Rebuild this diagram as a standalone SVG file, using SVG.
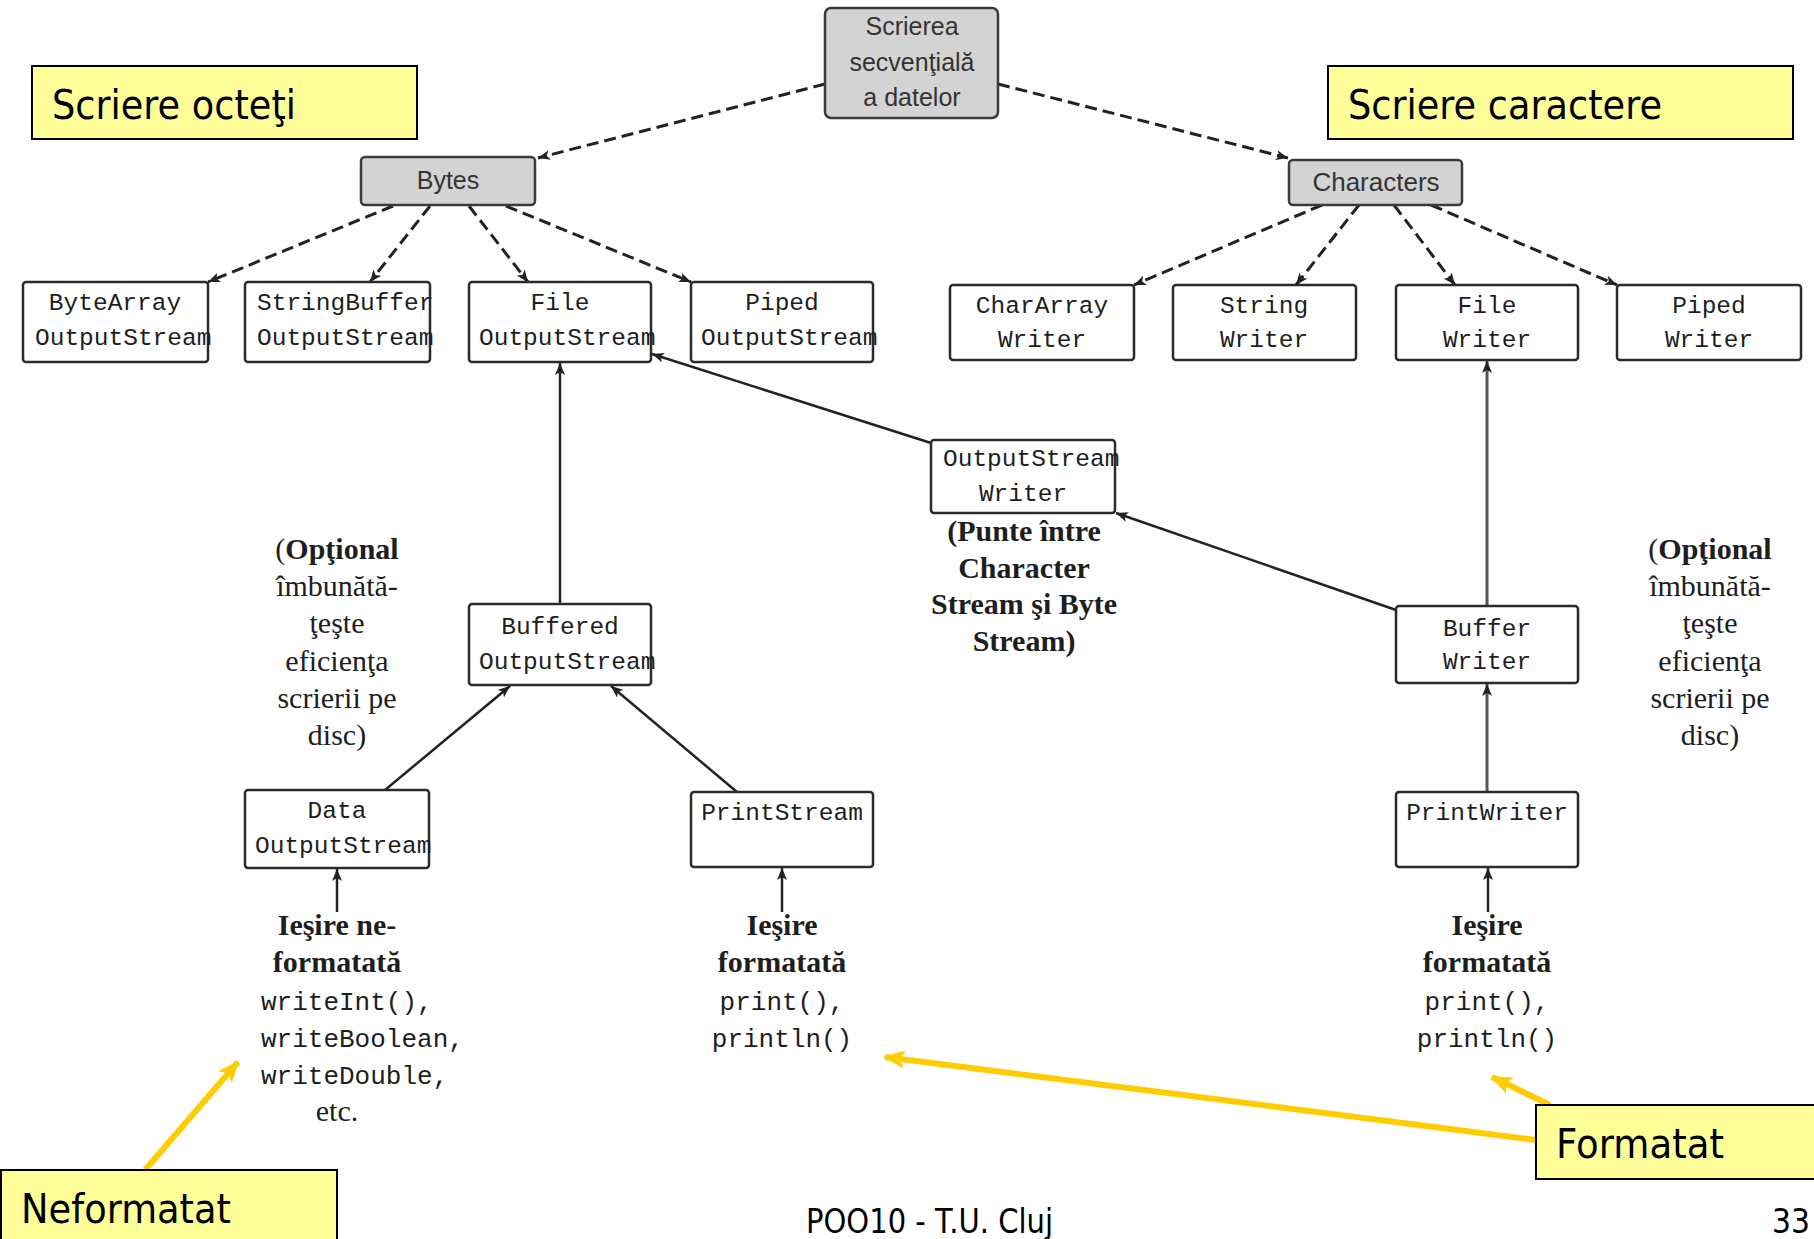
<svg xmlns="http://www.w3.org/2000/svg" width="1814" height="1239" viewBox="0 0 1814 1239">
<style>
.node rect{fill:#fff;stroke:#2b2b2b;stroke-width:2.5}
.gnode rect{fill:#d3d3d3;stroke:#3a3a3a;stroke-width:2.5}
.mono{font-family:'Liberation Mono','DejaVu Sans Mono',monospace;font-size:24.5px;fill:#1e1e1e}
.code{font-family:'Liberation Mono','DejaVu Sans Mono',monospace;font-size:26px;fill:#1e1e1e}
.helv{font-family:'Liberation Sans',Arial,sans-serif;font-size:25px;fill:#333}
.serif{font-family:'Liberation Serif','Times New Roman',serif;font-size:30px;fill:#1e1e1e}
.b{font-weight:bold}
.note rect{fill:#FFFF99;stroke:#000;stroke-width:2}
.notet{font-family:'DejaVu Sans','Liberation Sans',sans-serif;font-size:41px;fill:#000}
.foot{font-family:'DejaVu Sans','Liberation Sans',sans-serif;font-size:34px;fill:#000}
.dash{stroke:#222;stroke-width:3;stroke-dasharray:12 6;fill:none}
.solid{stroke:#222;stroke-width:2.5;fill:none}
.gray{stroke:#555;stroke-width:3;fill:none}
.yel{stroke:#FFCC00;stroke-width:6;fill:none}
.c{text-anchor:middle}
</style>
<defs>
<marker id="ah" viewBox="0 0 12 10" refX="12" refY="5" markerWidth="12" markerHeight="10" markerUnits="userSpaceOnUse" orient="auto">
<path d="M0,0 L12,5 L0,10 L3,5 z" fill="#222"/>
</marker>
<marker id="ay" viewBox="0 0 22 18" refX="20" refY="9" markerWidth="22" markerHeight="18" markerUnits="userSpaceOnUse" orient="auto">
<path d="M0,0 L22,9 L0,18 L5,9 z" fill="#FFCC00"/>
</marker>
</defs>

<g id="connectors">
<path class="dash" d="M825,84 L538,158" marker-end="url(#ah)"/>
<path class="dash" d="M998,84 L1288,158" marker-end="url(#ah)"/>
<path class="dash" d="M393,206 L208,282" marker-end="url(#ah)"/>
<path class="dash" d="M430,206 L370,282" marker-end="url(#ah)"/>
<path class="dash" d="M469,206 L528,282" marker-end="url(#ah)"/>
<path class="dash" d="M506,206 L691,282" marker-end="url(#ah)"/>
<path class="dash" d="M1322,205 L1134,285" marker-end="url(#ah)"/>
<path class="dash" d="M1359,205 L1296,285" marker-end="url(#ah)"/>
<path class="dash" d="M1394,205 L1455,285" marker-end="url(#ah)"/>
<path class="dash" d="M1431,205 L1617,285" marker-end="url(#ah)"/>
<path class="solid" d="M560,604 L560,363" marker-end="url(#ah)"/>
<path class="solid" d="M931,443 L652,354" marker-end="url(#ah)"/>
<path class="solid" d="M1396,610 L1116,513" marker-end="url(#ah)"/>
<path class="gray" d="M1487,606 L1487,361" marker-end="url(#ah)"/>
<path class="gray" d="M1487,792 L1487,684" marker-end="url(#ah)"/>
<path class="solid" d="M385,790 L510,686" marker-end="url(#ah)"/>
<path class="solid" d="M737,792 L611,686" marker-end="url(#ah)"/>
<path class="solid" d="M337,912 L337,869" marker-end="url(#ah)"/>
<path class="solid" d="M782,912 L782,868" marker-end="url(#ah)"/>
<path class="solid" d="M1488,912 L1488,868" marker-end="url(#ah)"/>
<path class="yel" d="M145,1170 L238,1062" marker-end="url(#ay)"/>
<path class="yel" d="M1536,1140 L885,1057" marker-end="url(#ay)"/>
<path class="yel" d="M1550,1105 L1492,1077" marker-end="url(#ay)"/>
</g>

<g id="top" class="gnode"><rect x="825" y="8" width="173" height="110" rx="6"/>
<text class="helv c" x="912" y="35">Scrierea</text>
<text class="helv c" x="912" y="71">secvenţială</text>
<text class="helv c" x="912" y="106">a datelor</text></g>
<g id="bytes" class="gnode"><rect x="361" y="157" width="174" height="48" rx="4"/>
<text class="helv c" x="448" y="189">Bytes</text></g>
<g id="characters" class="gnode"><rect x="1289" y="160" width="173" height="45" rx="4"/>
<text class="helv c" x="1376" y="191" style="font-size:26px">Characters</text></g>

<g id="bytearray" class="node"><rect x="23" y="282" width="185" height="80" rx="3"/>
<text class="mono c" x="115" y="310">ByteArray</text>
<text class="mono" x="35" y="345">OutputStream</text></g>
<g id="stringbuffer" class="node"><rect x="245" y="282" width="185" height="80" rx="3"/>
<text class="mono" x="257" y="310">StringBuffer</text>
<text class="mono" x="257" y="345">OutputStream</text></g>
<g id="fileos" class="node"><rect x="469" y="282" width="182" height="80" rx="3"/>
<text class="mono c" x="560" y="310">File</text>
<text class="mono" x="479" y="345">OutputStream</text></g>
<g id="pipedos" class="node"><rect x="691" y="282" width="182" height="80" rx="3"/>
<text class="mono c" x="782" y="310">Piped</text>
<text class="mono" x="701" y="345">OutputStream</text></g>

<g id="chararray" class="node"><rect x="950" y="285" width="184" height="75" rx="3"/>
<text class="mono c" x="1042" y="313">CharArray</text>
<text class="mono c" x="1042" y="347">Writer</text></g>
<g id="stringwriter" class="node"><rect x="1173" y="285" width="183" height="75" rx="3"/>
<text class="mono c" x="1264" y="313">String</text>
<text class="mono c" x="1264" y="347">Writer</text></g>
<g id="filewriter" class="node"><rect x="1396" y="285" width="182" height="75" rx="3"/>
<text class="mono c" x="1487" y="313">File</text>
<text class="mono c" x="1487" y="347">Writer</text></g>
<g id="pipedwriter" class="node"><rect x="1617" y="285" width="184" height="75" rx="3"/>
<text class="mono c" x="1709" y="313">Piped</text>
<text class="mono c" x="1709" y="347">Writer</text></g>

<g id="osw" class="node"><rect x="931" y="440" width="184" height="73" rx="3"/>
<text class="mono" x="943" y="466">OutputStream</text>
<text class="mono c" x="1023" y="501">Writer</text></g>
<g id="buffered" class="node"><rect x="469" y="604" width="182" height="81" rx="3"/>
<text class="mono c" x="560" y="634">Buffered</text>
<text class="mono" x="479" y="669">OutputStream</text></g>
<g id="bufferwriter" class="node"><rect x="1396" y="606" width="182" height="77" rx="3"/>
<text class="mono c" x="1487" y="636">Buffer</text>
<text class="mono c" x="1487" y="669">Writer</text></g>
<g id="data" class="node"><rect x="245" y="790" width="184" height="78" rx="3"/>
<text class="mono c" x="337" y="818">Data</text>
<text class="mono" x="255" y="853">OutputStream</text></g>
<g id="printstream" class="node"><rect x="691" y="792" width="182" height="75" rx="3"/>
<text class="mono c" x="782" y="820">PrintStream</text></g>
<g id="printwriter" class="node"><rect x="1396" y="792" width="182" height="75" rx="3"/>
<text class="mono c" x="1487" y="820">PrintWriter</text></g>

<g id="opt-left">
<text class="serif c" x="337" y="559">(<tspan class="b">Opţional</tspan></text>
<text class="serif c" x="337" y="596">îmbunătă-</text>
<text class="serif c" x="337" y="633">ţeşte</text>
<text class="serif c" x="337" y="671">eficienţa</text>
<text class="serif c" x="337" y="708">scrierii pe</text>
<text class="serif c" x="337" y="745">disc)</text>
</g>
<g id="opt-right">
<text class="serif c" x="1710" y="559">(<tspan class="b">Opţional</tspan></text>
<text class="serif c" x="1710" y="596">îmbunătă-</text>
<text class="serif c" x="1710" y="633">ţeşte</text>
<text class="serif c" x="1710" y="671">eficienţa</text>
<text class="serif c" x="1710" y="708">scrierii pe</text>
<text class="serif c" x="1710" y="745">disc)</text>
</g>
<g id="bridge">
<text class="serif b c" x="1024" y="541">(Punte între</text>
<text class="serif b c" x="1024" y="578">Character</text>
<text class="serif b c" x="1024" y="614">Stream şi Byte</text>
<text class="serif b c" x="1024" y="651">Stream)</text>
</g>
<g id="out-unformatted">
<text class="serif b c" x="337" y="935">Ieşire ne-</text>
<text class="serif b c" x="337" y="972">formatată</text>
<text class="code" x="261" y="1010">writeInt(),</text>
<text class="code" x="261" y="1047">writeBoolean,</text>
<text class="code" x="261" y="1084">writeDouble,</text>
<text class="serif c" x="337" y="1121">etc.</text>
</g>
<g id="out-formatted-1">
<text class="serif b c" x="782" y="935">Ieşire</text>
<text class="serif b c" x="782" y="972">formatată</text>
<text class="code c" x="782" y="1010">print(),</text>
<text class="code c" x="782" y="1047">println()</text>
</g>
<g id="out-formatted-2">
<text class="serif b c" x="1487" y="935">Ieşire</text>
<text class="serif b c" x="1487" y="972">formatată</text>
<text class="code c" x="1487" y="1010">print(),</text>
<text class="code c" x="1487" y="1047">println()</text>
</g>

<g id="note-octeti" class="note"><rect x="32" y="66" width="385" height="73"/>
<text class="notet" x="52" y="119" textLength="244" lengthAdjust="spacingAndGlyphs">Scriere octeţi</text></g>
<g id="note-caractere" class="note"><rect x="1328" y="66" width="465" height="73"/>
<text class="notet" x="1348" y="119" textLength="314" lengthAdjust="spacingAndGlyphs">Scriere caractere</text></g>
<g id="note-neformatat" class="note"><rect x="1" y="1170" width="336" height="80"/>
<text class="notet" x="21" y="1223" textLength="210" lengthAdjust="spacingAndGlyphs">Neformatat</text></g>
<g id="note-formatat" class="note"><rect x="1536" y="1105" width="290" height="74"/>
<text class="notet" x="1556" y="1158" textLength="168" lengthAdjust="spacingAndGlyphs">Formatat</text></g>

<g id="footer">
<text class="foot" x="806" y="1233" textLength="247" lengthAdjust="spacingAndGlyphs">POO10 - T.U. Cluj</text>
<text class="foot" x="1772" y="1233" textLength="38" lengthAdjust="spacingAndGlyphs">33</text>
</g>
</svg>
